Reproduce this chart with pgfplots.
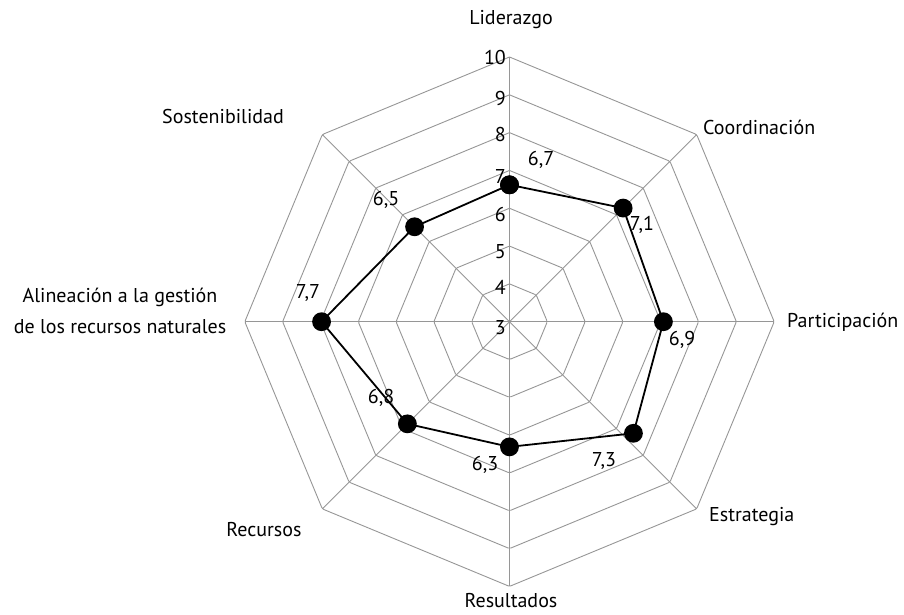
\documentclass[border=0pt]{standalone}
\usepackage{fontspec}
\setmainfont{PT Sans}
\usepackage{pgfplots}
\pgfplotsset{compat=1.18}
\usepgfplotslibrary{polar}
\usetikzlibrary{calc}
\definecolor{gridgray}{RGB}{150,150,150}
\begin{document}
\begin{tikzpicture}
\begin{polaraxis}[
  name=ax,
  scale only axis, width=529.4pt, height=529.4pt,
  y coord trafo/.code={\pgfmathparse{#1-3}},
  ymin=3, ymax=10,
  axis line style={draw=none},
  xtick=\empty, ytick=\empty,
  grid=none, clip=false,
]
% octagonal rings
\addplot[gridgray, line width=0.9pt, rounded corners=1.5pt] coordinates {(90,10)(135,10)(180,10)(225,10)(270,10)(315,10)(360,10)(45,10)(90,10)};
\addplot[gridgray, line width=0.9pt, rounded corners=1.5pt] coordinates {(90,9)(135,9)(180,9)(225,9)(270,9)(315,9)(360,9)(45,9)(90,9)};
\addplot[gridgray, line width=0.9pt, rounded corners=1.5pt] coordinates {(90,8)(135,8)(180,8)(225,8)(270,8)(315,8)(360,8)(45,8)(90,8)};
\addplot[gridgray, line width=0.9pt, rounded corners=1.5pt] coordinates {(90,7)(135,7)(180,7)(225,7)(270,7)(315,7)(360,7)(45,7)(90,7)};
\addplot[gridgray, line width=0.9pt, rounded corners=1.5pt] coordinates {(90,6)(135,6)(180,6)(225,6)(270,6)(315,6)(360,6)(45,6)(90,6)};
\addplot[gridgray, line width=0.9pt, rounded corners=1.5pt] coordinates {(90,5)(135,5)(180,5)(225,5)(270,5)(315,5)(360,5)(45,5)(90,5)};
\addplot[gridgray, line width=0.9pt, rounded corners=1.5pt] coordinates {(90,4)(135,4)(180,4)(225,4)(270,4)(315,4)(360,4)(45,4)(90,4)};
% spokes
\addplot[gridgray, line width=0.9pt] coordinates {(0,3)(0,10)};
\addplot[gridgray, line width=0.9pt] coordinates {(45,3)(45,10)};
\addplot[gridgray, line width=0.9pt] coordinates {(90,3)(90,10)};
\addplot[gridgray, line width=0.9pt] coordinates {(135,3)(135,10)};
\addplot[gridgray, line width=0.9pt] coordinates {(180,3)(180,10)};
\addplot[gridgray, line width=0.9pt] coordinates {(225,3)(225,10)};
\addplot[gridgray, line width=0.9pt] coordinates {(270,3)(270,10)};
\addplot[gridgray, line width=0.9pt] coordinates {(315,3)(315,10)};
% data
\addplot[black, line width=1.8pt, mark=*, mark size=8.5pt, mark options={fill=black}] coordinates {
 (90,6.62) (45,7.25) (0,7.07) (-42,7.41) (-90,6.31) (-135,6.82) (-180,7.97) (-225,6.55) (-270,6.62)};
\coordinate (O) at (axis cs:0,3);
\end{polaraxis}
\pgfresetboundingbox
\path[use as bounding box] ($(O)+(-509.5pt,-292.3pt)$) rectangle ($(O)+(394.5pt,321.7pt)$);
% helper: P(x,y) in reference pixel units
\def\P(#1,#2){($(O)+(#1pt-509.5pt,321.7pt-#2pt)$)}
\begin{scope}[every node/.style={font=\fontsize{20}{24}\selectfont, inner sep=0pt}]
\node[anchor=east] at \P(506,58) {10};
\node[anchor=east] at \P(506,99) {9};
\node[anchor=east] at \P(506,135) {8};
\node[anchor=east] at \P(506,176) {7};
\node[anchor=east] at \P(506,214) {6};
\node[anchor=east] at \P(506,252) {5};
\node[anchor=east] at \P(506,287) {4};
\node[anchor=east] at \P(506,328) {3};
% value labels
\node at \P(541,160) {6,7};
\node at \P(642,225) {7,1};
\node at \P(682,340) {6,9};
\node at \P(604,461) {7,3};
\node at \P(485,465) {6,3};
\node at \P(381,398) {6,8};
\node at \P(308,293) {7,7};
\node at \P(386,200) {6,5};
% category labels
\node at \P(511,20) {Liderazgo};
\node[anchor=west] at \P(703,127) {Coordinación};
\node[anchor=west] at \P(787,322) {Participación};
\node[anchor=west] at \P(709,517) {Estrategia};
\node at \P(511,601) {Resultados};
\node at \P(264,530) {Recursos};
\node at \P(120,297) {Alineación a la gestión};
\node at \P(120,327) {de los recursos naturales};
\node at \P(223,117) {Sostenibilidad};
\end{scope}
\end{tikzpicture}
\end{document}
